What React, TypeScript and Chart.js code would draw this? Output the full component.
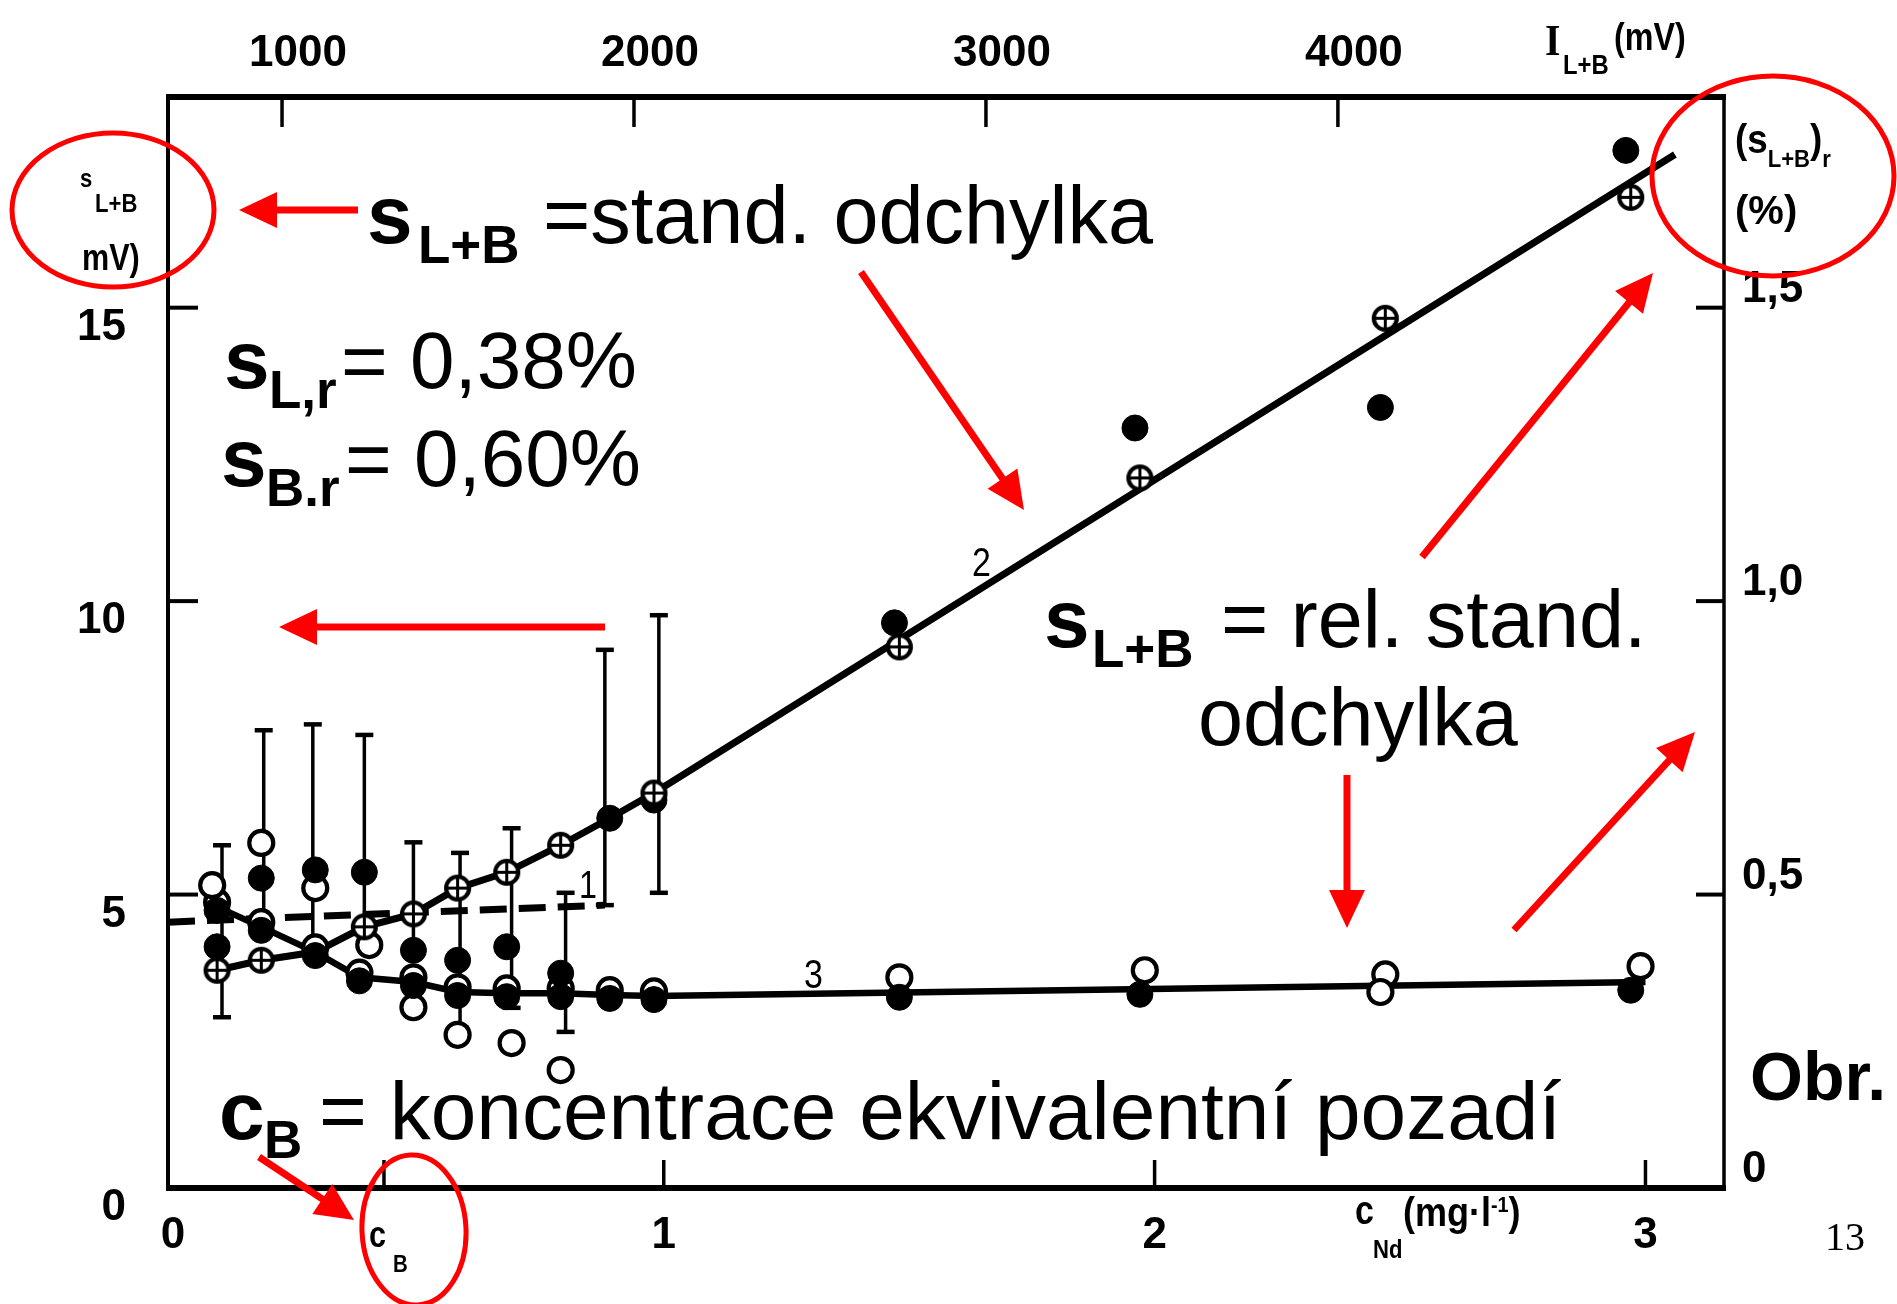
import React, { useEffect, useRef } from 'react';
import { Chart, registerables } from 'chart.js';

Chart.register(...registerables);

// ---------------- Data ----------------
const xTicksBottom = [0, 1, 2, 3];
const xTicksTop = [1000, 2000, 3000, 4000];
const yTicksLeft = [0, 5, 10, 15];
const yTicksRight = [0, 0.5, 1.0, 1.5];
const cB = 0.43;

// curve 1 (dashed), mV
const curve1C = [-0.01, 0.88];
const curve1S = [4.53, 4.82];

// curve 2 (s_L+B, mV) – line
const curve2C = [0.09, 0.18, 0.29, 0.39, 0.49, 0.58, 0.68, 0.79, 0.89, 0.98, 3.06];
const curve2S = [3.71, 3.88, 4.02, 4.45, 4.67, 5.11, 5.38, 5.84, 6.3, 6.73, 17.61];

// curve 2 crossed-circle points (mV)
const crossedC = [0.09, 0.18, 0.39, 0.49, 0.58, 0.68, 0.79, 0.98, 1.48, 1.97, 2.47, 2.97];
const crossedS = [3.71, 3.88, 4.45, 4.67, 5.11, 5.38, 5.84, 6.73, 9.22, 12.1, 14.82, 16.88];

// curve 2 filled points (mV)
const filled2C = [0.89, 0.98, 1.47, 1.96, 2.46, 2.96];
const filled2S = [6.3, 6.61, 9.63, 12.95, 13.3, 17.68];

// low-concentration cluster (mV)
const clusterFilledC = [0.09, 0.18, 0.29, 0.39, 0.49, 0.58, 0.68, 0.79];
const clusterFilledS = [4.11, 5.28, 5.42, 5.38, 4.05, 3.88, 4.11, 3.66];
const clusterOpenC = [0.08, 0.18, 0.29, 0.4, 0.49, 0.58, 0.69, 0.79];
const clusterOpenS = [5.16, 5.88, 5.11, 4.14, 3.08, 2.61, 2.47, 2.01];

// error bars (mV)
const errC = [0.1, 0.185, 0.285, 0.39, 0.49, 0.585, 0.69, 0.8, 0.88, 0.99];
const errLow = [2.91, 4.45, 4.02, 4.45, 4.05, 2.73, 3.07, 2.66, 4.82, 5.03];
const errHigh = [5.84, 7.8, 7.9, 7.72, 5.89, 5.71, 6.13, 5.03, 9.17, 9.76];

// curve 3 (relative standard deviation, %) – line
const curve3C = [0.09, 0.18, 0.29, 0.38, 0.49, 0.58, 0.68, 0.79, 0.89, 0.98, 3.0];
const curve3R = [0.479, 0.445, 0.402, 0.359, 0.351, 0.334, 0.332, 0.332, 0.329, 0.327, 0.351];

// curve 3 points (%)
const c3OpenC = [0.09, 0.18, 0.29, 0.38, 0.49, 0.58, 0.68, 0.79, 0.89, 0.98, 1.48, 1.98, 2.47, 2.46, 2.99];
const c3OpenR = [0.487, 0.453, 0.41, 0.367, 0.359, 0.342, 0.34, 0.34, 0.337, 0.335, 0.359, 0.371, 0.364, 0.334, 0.378];
const c3FilledC = [0.09, 0.18, 0.29, 0.38, 0.49, 0.58, 0.68, 0.79, 0.89, 0.98, 1.48, 1.97, 2.97];
const c3FilledR = [0.473, 0.439, 0.396, 0.353, 0.345, 0.328, 0.326, 0.326, 0.323, 0.321, 0.325, 0.33, 0.337];

// ---------------- Styling constants ----------------
const INK = '#000000';
const RED = '#ff0000';
const SANS = '"Liberation Sans", Arial, Helvetica, sans-serif';
const SERIF = '"Liberation Serif", "Times New Roman", serif';

const pts = (xs: number[], ys: number[]) => xs.map((x, i) => ({ x, y: ys[i] }));

function makeCrossCircle(r: number) {
  const c = document.createElement('canvas');
  const size = Math.ceil(r * 2 + 8);
  c.width = size;
  c.height = size;
  const g = c.getContext('2d')!;
  const m = size / 2;
  g.fillStyle = '#fff';
  g.strokeStyle = INK;
  g.lineWidth = 4.2;
  g.beginPath();
  g.arc(m, m, r, 0, Math.PI * 2);
  g.fill();
  g.stroke();
  g.lineWidth = 3;
  g.beginPath();
  g.moveTo(m - r, m);
  g.lineTo(m + r, m);
  g.moveTo(m, m - r);
  g.lineTo(m, m + r);
  g.stroke();
  return c;
}

function seg(ctx: CanvasRenderingContext2D, x1: number, y1: number, x2: number, y2: number, w: number) {
  ctx.lineWidth = w;
  ctx.beginPath();
  ctx.moveTo(x1, y1);
  ctx.lineTo(x2, y2);
  ctx.stroke();
}

function arrow(ctx: CanvasRenderingContext2D, x1: number, y1: number, x2: number, y2: number) {
  const head = 38;
  const half = 18;
  const dx = x2 - x1;
  const dy = y2 - y1;
  const len = Math.hypot(dx, dy);
  const ux = dx / len;
  const uy = dy / len;
  const bx = x2 - ux * head;
  const by = y2 - uy * head;
  ctx.strokeStyle = RED;
  ctx.fillStyle = RED;
  ctx.lineCap = 'butt';
  seg(ctx, x1, y1, bx + ux * 2, by + uy * 2, 7);
  ctx.beginPath();
  ctx.moveTo(x2, y2);
  ctx.lineTo(bx - uy * half, by + ux * half);
  ctx.lineTo(bx + uy * half, by - ux * half);
  ctx.closePath();
  ctx.fill();
}

function ellipse(ctx: CanvasRenderingContext2D, cx: number, cy: number, rx: number, ry: number, rot = 0) {
  ctx.strokeStyle = RED;
  ctx.lineWidth = 5;
  ctx.beginPath();
  ctx.ellipse(cx, cy, rx, ry, rot, 0, Math.PI * 2);
  ctx.stroke();
}

function txt(ctx: CanvasRenderingContext2D, s: string, x: number, y: number, font: string, color = INK) {
  ctx.font = font;
  ctx.fillStyle = color;
  ctx.textAlign = 'left';
  ctx.textBaseline = 'alphabetic';
  ctx.fillText(s, x, y);
}

// scan-style (condensed) text run: parts = [text, size, dy, weight, family]
function run(
  ctx: CanvasRenderingContext2D,
  x: number,
  y: number,
  parts: [string, number, number, string?, string?][],
  sx = 0.85
) {
  let cx = x;
  ctx.fillStyle = INK;
  ctx.textAlign = 'left';
  ctx.textBaseline = 'alphabetic';
  for (const [t, size, dy, weight, fam] of parts) {
    ctx.font = `${weight || 'bold'} ${size}px ${fam || SANS}`;
    ctx.save();
    ctx.translate(cx, y + dy);
    ctx.scale(sx, 1);
    ctx.fillText(t, 0, 0);
    ctx.restore();
    cx += ctx.measureText(t).width * sx;
  }
}

const decor = {
  id: 'decor',
  beforeDatasetsDraw(chart: any) {
    const { ctx, chartArea: a, scales } = chart;
    ctx.save();
    ctx.strokeStyle = INK;
    ctx.lineCap = 'butt';
    // frame
    seg(ctx, a.left - 2, a.top, a.right + 2, a.top, 6);
    seg(ctx, a.left - 2, a.bottom, a.right + 2, a.bottom, 6);
    seg(ctx, a.left, a.top - 3, a.left, a.bottom + 3, 4);
    seg(ctx, a.right, a.top - 3, a.right, a.bottom + 3, 3.5);
    // inward tick marks
    [cB, 1, 2, 3].forEach((v) => {
      const x = scales.x.getPixelForValue(v);
      seg(ctx, x, a.bottom, x, a.bottom - 28, 3.5);
    });
    xTicksTop.forEach((v) => {
      const x = scales.xTop.getPixelForValue(v);
      seg(ctx, x, a.top, x, a.top + 30, 3.5);
    });
    yTicksLeft.filter((v) => v > 0).forEach((v) => {
      const y = scales.y.getPixelForValue(v);
      seg(ctx, a.left, y, a.left + 30, y, 4);
    });
    yTicksRight.filter((v) => v > 0).forEach((v) => {
      const y = scales.yR.getPixelForValue(v);
      seg(ctx, a.right, y, a.right - 28, y, 4);
    });
    // error bars
    errC.forEach((c, i) => {
      const x = scales.x.getPixelForValue(c);
      const yl = scales.y.getPixelForValue(errLow[i]);
      const yh = scales.y.getPixelForValue(errHigh[i]);
      seg(ctx, x, yl, x, yh, 3.5);
      seg(ctx, x - 9, yh, x + 9, yh, 4.5);
      seg(ctx, x - 9, yl, x + 9, yl, 4.5);
    });
    ctx.restore();
  },
  afterDraw(chart: any) {
    const { ctx } = chart;
    ctx.save();
    // curve labels (scan style)
    run(ctx, 579, 898, [['1', 38, 0, 'normal']]);
    run(ctx, 972, 576, [['2', 40, 0, 'normal']]);
    run(ctx, 804, 988, [['3', 40, 0, 'normal']]);
    // axis titles (scan style)
    run(ctx, 1545, 55, [['I', 44, 0, 'bold', SERIF]], 0.9);
    run(ctx, 1563, 74, [['L+B', 28, 0]]);
    run(ctx, 1614, 50, [['(mV)', 38, 0]]);
    run(ctx, 1355, 1224, [['c', 40, 0]]);
    run(ctx, 1373, 1258, [['Nd', 26, 0]]);
    run(ctx, 1403, 1226, [['(mg·l', 40, 0], ['-1', 22, -14], [')', 40, 0]], 0.9);
    run(ctx, 369, 1247, [['c', 36, 0]]);
    run(ctx, 393, 1272, [['B', 24, 0]]);
    run(ctx, 80, 187, [['s', 26, 0]]);
    run(ctx, 95, 212, [['L+B', 26, 0]]);
    run(ctx, 82, 270, [['mV)', 36, 0]]);
    run(ctx, 1735, 153, [['(s', 40, 0], ['L+B', 24, 14], [')', 40, 0], ['r', 24, 14]], 0.92);
    run(ctx, 1735, 224, [['(%)', 40, 0]], 1.0);

    // slide annotation text
    txt(ctx, 's', 367, 243, `bold 82px ${SANS}`);
    txt(ctx, 'L+B', 418, 263, `bold 53px ${SANS}`);
    txt(ctx, '=stand. odchylka', 543, 243, `normal 81px ${SANS}`);
    txt(ctx, 's', 224, 388, `bold 82px ${SANS}`);
    txt(ctx, 'L,r', 269, 408, `bold 53px ${SANS}`);
    txt(ctx, '= 0,38%', 341, 388, `normal 80px ${SANS}`);
    txt(ctx, 's', 221, 486, `bold 82px ${SANS}`);
    txt(ctx, 'B.r', 266, 506, `bold 53px ${SANS}`);
    txt(ctx, '= 0,60%', 345, 486, `normal 80px ${SANS}`);
    txt(ctx, 's', 1044, 647, `bold 82px ${SANS}`);
    txt(ctx, 'L+B', 1092, 667, `bold 53px ${SANS}`);
    txt(ctx, '= rel. stand.', 1221, 647, `normal 81px ${SANS}`);
    txt(ctx, 'odchylka', 1198, 745, `normal 81px ${SANS}`);
    txt(ctx, 'c', 219, 1139, `bold 82px ${SANS}`);
    txt(ctx, 'B', 264, 1158, `bold 53px ${SANS}`);
    txt(ctx, '= koncentrace ekvivalentní pozadí', 319, 1139, `normal 82px ${SANS}`);
    txt(ctx, 'Obr.', 1750, 1100, `bold 68px ${SANS}`);
    txt(ctx, '13', 1825, 1250, `normal 40px ${SERIF}`);

    // red annotations
    ellipse(ctx, 113, 210, 101, 77);
    ellipse(ctx, 1773, 176, 121, 100);
    ellipse(ctx, 414, 1230, 52, 75, -0.05);
    arrow(ctx, 358, 210, 239, 210);
    arrow(ctx, 605, 627, 279, 627);
    arrow(ctx, 861, 272, 1024, 510);
    arrow(ctx, 1422, 557, 1653, 273);
    arrow(ctx, 1347, 775, 1347, 928);
    arrow(ctx, 1514, 930, 1695, 732);
    arrow(ctx, 259, 1157, 354, 1220);
    ctx.restore();
  },
};

export default function App() {
  const ref = useRef<HTMLCanvasElement>(null);

  useEffect(() => {
    if (!ref.current) return;
    const crossImg = makeCrossCircle(11.5);
    const tickFont = { family: SANS, size: 44, weight: 'bold' as const };

    const openStyle = {
      pointRadius: 12,
      pointBackgroundColor: '#fff',
      pointBorderColor: INK,
      pointBorderWidth: 4.2,
    };
    const filledStyle = {
      pointRadius: 13,
      pointBackgroundColor: INK,
      pointBorderColor: INK,
      pointBorderWidth: 1,
    };

    const chart = new Chart(ref.current, {
      type: 'scatter',
      data: {
        datasets: [
          {
            label: 'curve 1',
            data: pts(curve1C, curve1S),
            showLine: true,
            borderColor: INK,
            borderWidth: 7,
            borderDash: [27, 12],
            pointRadius: 0,
            order: 10,
            yAxisID: 'y',
          },
          {
            label: 'curve 2',
            data: pts(curve2C, curve2S),
            showLine: true,
            borderColor: INK,
            borderWidth: 7,
            pointRadius: 0,
            order: 9,
            yAxisID: 'y',
          },
          {
            label: 'curve 3',
            data: pts(curve3C, curve3R),
            showLine: true,
            borderColor: INK,
            borderWidth: 6.5,
            pointRadius: 0,
            order: 8,
            yAxisID: 'yR',
          },
          { label: 'cluster open', data: pts(clusterOpenC, clusterOpenS), ...openStyle, order: 6, yAxisID: 'y' },
          { label: 'curve 3 open', data: pts(c3OpenC, c3OpenR), ...openStyle, order: 6, yAxisID: 'yR' },
          { label: 'cluster filled', data: pts(clusterFilledC, clusterFilledS), ...filledStyle, order: 5, yAxisID: 'y' },
          { label: 'curve 3 filled', data: pts(c3FilledC, c3FilledR), ...filledStyle, order: 4, yAxisID: 'yR' },
          { label: 'curve 2 filled', data: pts(filled2C, filled2S), ...filledStyle, order: 4, yAxisID: 'y' },
          {
            label: 'curve 2 crossed',
            data: pts(crossedC, crossedS),
            pointStyle: crossImg as any,
            pointRadius: 12,
            order: 1,
            yAxisID: 'y',
          },
        ],
      },
      options: {
        responsive: false,
        maintainAspectRatio: false,
        animation: false,
        devicePixelRatio: 1,
        events: [],
        layout: { padding: 0 },
        plugins: { legend: { display: false }, tooltip: { enabled: false } },
        scales: {
          x: {
            type: 'linear',
            position: 'bottom',
            min: -0.01,
            max: 3.16,
            grid: { display: false },
            border: { display: false },
            afterBuildTicks: (s: any) => {
              s.ticks = xTicksBottom.map((v) => ({ value: v }));
            },
            afterFit: (s: any) => {
              s.height = 116;
            },
            ticks: {
              padding: 13,
              color: INK,
              font: tickFont,
              maxRotation: 0,
              autoSkip: false,
              callback: (v: any) => String(v),
            },
          },
          xTop: {
            type: 'linear',
            position: 'top',
            min: 676,
            max: 5097,
            grid: { display: false },
            border: { display: false },
            afterBuildTicks: (s: any) => {
              s.ticks = xTicksTop.map((v) => ({ value: v }));
            },
            afterFit: (s: any) => {
              s.height = 97;
            },
            ticks: {
              padding: 9,
              labelOffset: 16,
              color: INK,
              font: tickFont,
              maxRotation: 0,
              autoSkip: false,
              callback: (v: any) => String(v),
            },
          },
          y: {
            type: 'linear',
            position: 'left',
            min: 0,
            max: 18.59,
            grid: { display: false },
            border: { display: false },
            afterBuildTicks: (s: any) => {
              s.ticks = yTicksLeft.map((v) => ({ value: v }));
            },
            afterFit: (s: any) => {
              s.width = 168;
            },
            ticks: {
              padding: 34,
              labelOffset: 20,
              color: INK,
              font: tickFont,
              autoSkip: false,
              callback: (v: any) => String(v),
            },
          },
          yR: {
            type: 'linear',
            position: 'right',
            min: 0,
            max: 1.859,
            grid: { display: false },
            border: { display: false },
            afterBuildTicks: (s: any) => {
              s.ticks = yTicksRight.map((v) => ({ value: v }));
            },
            afterFit: (s: any) => {
              s.width = 173;
            },
            ticks: {
              padding: 10,
              labelOffset: -18,
              color: INK,
              font: tickFont,
              autoSkip: false,
              callback: (v: any) => (v === 0 ? '0' : Number(v).toFixed(1).replace('.', ',')),
            },
          },
        },
      } as any,
      plugins: [decor],
    });
    return () => chart.destroy();
  }, []);

  return (
    <canvas
      ref={ref}
      width={1897}
      height={1304}
      style={{ position: 'fixed', left: 0, top: 0, width: 1897, height: 1304, background: '#fff' }}
    />
  );
}
